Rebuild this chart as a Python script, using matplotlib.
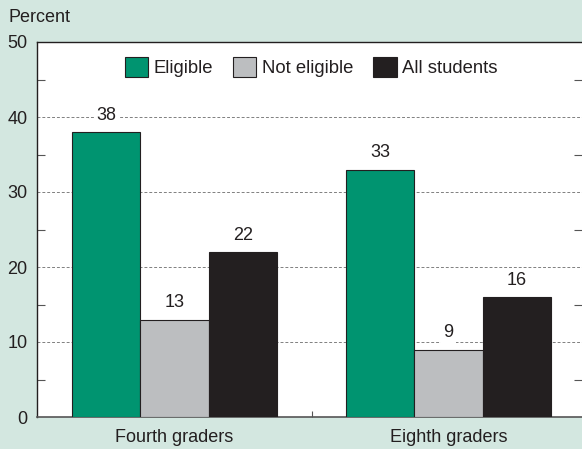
import matplotlib
matplotlib.use("Agg")
import matplotlib.pyplot as plt
import numpy as np
from matplotlib.patches import Patch
from matplotlib.ticker import MultipleLocator, FixedLocator

plt.rcParams['font.family'] = ['Liberation Sans', 'DejaVu Sans']

groups = ["Fourth graders", "Eighth graders"]
series = ["Eligible", "Not eligible", "All students"]
eligible = [38, 33]
not_eligible = [13, 9]
all_students = [22, 16]
yticks = [0, 10, 20, 30, 40, 50]

values = [eligible, not_eligible, all_students]
colors = ["#009470", "#bcbec0", "#231f20"]
bg = "#d3e7e0"
ink = "#231f20"
fs = 13

fig = plt.figure(figsize=(5.82, 4.49), dpi=100, facecolor=bg)
ax = fig.add_axes([37 / 582, 32 / 449, 545 / 582, 375 / 449])
ax.set_facecolor("white")

x = np.arange(len(groups))
width = 0.249
offsets = [-width, 0, width]
for vals, off, col, name in zip(values, offsets, colors, series):
    bars = ax.bar(x + off, vals, width, color=col, edgecolor=ink, linewidth=0.8,
                  label=name, zorder=3)
    for b, v in zip(bars, vals):
        ax.annotate(f"{v}", (b.get_x() + b.get_width() / 2, v),
                    xytext=(0, 6), textcoords="offset points",
                    ha="center", va="bottom", fontsize=fs, color=ink,
                    bbox=dict(boxstyle="square,pad=0.15", fc="white", ec="none"),
                    zorder=4)

ax.set_ylim(0, 50)
ax.set_xlim(-0.502, 1.487)
ax.set_yticks(yticks)
ax.yaxis.set_minor_locator(MultipleLocator(5))
ax.set_xticks(x)
ax.set_xticklabels(groups)
ax.xaxis.set_minor_locator(FixedLocator([0.5]))

for y in yticks[1:-1]:
    ax.axhline(y, color="#808080", linestyle=(0, (3, 2)), linewidth=0.7, zorder=1)

ax.tick_params(axis="y", which="major", length=0, pad=7, labelsize=fs, labelcolor=ink)
ax.tick_params(axis="y", which="minor", direction="in", length=6, width=0.8,
               color="#555555", left=True, right=True)
ax.tick_params(axis="x", which="major", length=0, pad=9, labelsize=fs, labelcolor=ink)
ax.tick_params(axis="x", which="minor", direction="in", length=4, width=0.8, color="#555555")

for side in ["top", "left"]:
    ax.spines[side].set_color(ink)
    ax.spines[side].set_linewidth(1.0)
ax.spines["bottom"].set_color("#555555")
ax.spines["bottom"].set_linewidth(1.2)
ax.spines["right"].set_visible(False)

handles = [Patch(facecolor=c, edgecolor=ink, linewidth=0.8, label=s)
           for c, s in zip(colors, series)]
ax.legend(handles=handles, loc="upper center", bbox_to_anchor=(0.503, 1.005), ncol=3,
          frameon=False, fontsize=13.3, handlelength=1.25, handleheight=1.35,
          handletextpad=0.3, columnspacing=1.1, labelcolor=ink)

fig.text(8 / 582, 1 - 22 / 449, "Percent", fontsize=fs, color=ink, ha="left", va="baseline")

fig.savefig("out.png", dpi=100, facecolor=bg)
